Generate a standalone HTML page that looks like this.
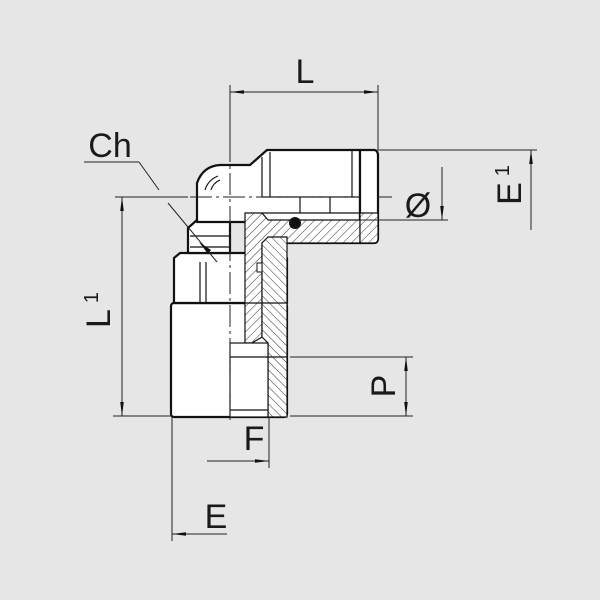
<!DOCTYPE html>
<html><head><meta charset="utf-8"><style>
html,body{margin:0;padding:0;background:#e6e6e6}
svg{display:block}
text{font-family:"Liberation Sans",sans-serif;fill:#1a1a1a}
</style></head><body>
<svg width="600" height="600" viewBox="0 0 600 600" xmlns="http://www.w3.org/2000/svg">
<defs>
<pattern id="h" width="6" height="6" patternUnits="userSpaceOnUse" patternTransform="rotate(45)">
<rect width="6" height="6" fill="#fff"/><line x1="0" y1="0" x2="0" y2="6" stroke="#222" stroke-width="0.9"/>
</pattern>
<pattern id="h2" width="6" height="6" patternUnits="userSpaceOnUse" patternTransform="rotate(-45)">
<rect width="6" height="6" fill="#fff"/><line x1="0" y1="0" x2="0" y2="6" stroke="#222" stroke-width="0.9"/>
</pattern>
<marker id="a" markerWidth="14" markerHeight="6" refX="14" refY="3" orient="auto" markerUnits="userSpaceOnUse">
<path d="M0,1.2 L14,3 L0,4.8Z" fill="#111"/></marker>
</defs>
<rect width="600" height="600" fill="#e6e6e6"/>

<g stroke="#111" stroke-width="2.2" fill="#fff" stroke-linejoin="round">
<rect x="171" y="303" width="116" height="114" rx="3"/>
<path d="M174,303 L174,258 L180,253 L283,253 L287,258 L287,303Z"/>
<path d="M188,253 L188,228 L197,220 L230,220 L230,253Z"/>
<path d="M197,222 L197,183 Q203,166 220,165 L250,165 L267,150 L360,150 L360,243 L262,243 L262,222Z"/>
<path d="M360,150 L374,150 Q378,150 378,156 L378,238 Q378,243 374,243 L360,243Z"/>
</g>
<g stroke="#111" stroke-width="1.2">
<path d="M245,213 L262,213 L268,220 L360,220 L360,243 L262,243 L262,337 L252,343 L245,343Z" fill="url(#h)"/>
<path d="M360,213 L378,213 L378,238 Q378,243 374,243 L360,243Z" fill="url(#h)"/>
<path d="M268,237 L287,237 L287,417 L268,417 L268,343 L262,337 L262,243Z" fill="url(#h2)"/>
</g>
<g stroke="#111" stroke-width="1.2" fill="none">
<rect x="230" y="343" width="38" height="74" fill="#fff"/>
<line x1="230" y1="357" x2="287" y2="357"/>
<line x1="230" y1="410" x2="268" y2="410"/>
<line x1="262" y1="157" x2="262" y2="197"/>
<line x1="270" y1="152" x2="270" y2="197"/>
<line x1="352" y1="150" x2="352" y2="197"/>
<line x1="360" y1="150" x2="360" y2="165"/>
<line x1="262" y1="197" x2="360" y2="197"/>
<line x1="262" y1="213" x2="360" y2="213"/>
<line x1="300" y1="197" x2="300" y2="213"/>
<line x1="330" y1="197" x2="330" y2="213"/>
<line x1="190" y1="236" x2="230" y2="236"/>
<line x1="190" y1="247" x2="230" y2="247"/>
<line x1="200" y1="262" x2="200" y2="303"/>
<line x1="206" y1="262" x2="206" y2="303"/>
<line x1="174" y1="303" x2="287" y2="303"/>
<path d="M205,190 Q208,180 218,176" /><path d="M211,190 Q213,183 220,180"/>
</g>
<circle cx="295" cy="223" r="6" fill="#111"/>
<rect x="257" y="263" width="5" height="9" fill="#fff" stroke="#111" stroke-width="1"/>

<g stroke="#222" stroke-width="1" stroke-dasharray="22,4,3,4">
<line x1="230" y1="140" x2="230" y2="420"/>
<line x1="190" y1="197" x2="360" y2="197"/>
</g>

<g stroke="#222" stroke-width="1" fill="none">
<line x1="230" y1="85" x2="230" y2="150"/>
<line x1="378" y1="85" x2="378" y2="150"/>
<line x1="300" y1="92" x2="230" y2="92" marker-end="url(#a)"/>
<line x1="300" y1="92" x2="378" y2="92" marker-end="url(#a)"/>
<line x1="378" y1="150" x2="537" y2="150"/>
<line x1="531" y1="230" x2="531" y2="150" marker-end="url(#a)"/>
<line x1="360" y1="220" x2="448" y2="220"/>
<line x1="378" y1="197" x2="392" y2="197"/>
<line x1="442" y1="167" x2="442" y2="220" marker-end="url(#a)"/>
<line x1="290" y1="357" x2="413" y2="357"/>
<line x1="290" y1="416" x2="413" y2="416"/>
<line x1="406" y1="386" x2="406" y2="357" marker-end="url(#a)"/>
<line x1="406" y1="386" x2="406" y2="416" marker-end="url(#a)"/>
<line x1="115" y1="197" x2="188" y2="197"/>
<line x1="113" y1="416" x2="171" y2="416"/>
<line x1="122" y1="300" x2="122" y2="197" marker-end="url(#a)"/>
<line x1="122" y1="300" x2="122" y2="416" marker-end="url(#a)"/>
<line x1="269" y1="417" x2="269" y2="468"/>
<line x1="207" y1="461" x2="269" y2="461" marker-end="url(#a)"/>
<line x1="172" y1="417" x2="172" y2="541"/>
<line x1="227" y1="534" x2="172" y2="534" marker-end="url(#a)"/>
<line x1="84" y1="162" x2="139" y2="162"/>
<line x1="139" y1="162" x2="159" y2="190"/>
<line x1="168" y1="203" x2="217" y2="262"/>
</g>
<path d="M199,242 L211,250 L208,254Z" fill="#111"/>

<text x="305" y="83" font-size="34" text-anchor="middle">L</text>
<text x="110" y="157" font-size="34" text-anchor="middle">Ch</text>
<text x="418" y="217" font-size="34" text-anchor="middle">Ø</text>
<text x="254" y="450" font-size="34" text-anchor="middle">F</text>
<text x="216" y="528" font-size="34" text-anchor="middle">E</text>
<text transform="translate(110,310) rotate(-90)" font-size="34" text-anchor="middle">L<tspan font-size="20" dx="6" dy="-12">1</tspan></text>
<text transform="translate(395,386) rotate(-90)" font-size="34" text-anchor="middle">P</text>
<text transform="translate(521,185) rotate(-90)" font-size="34" text-anchor="middle">E<tspan font-size="20" dx="6" dy="-12">1</tspan></text>
</svg>
</body></html>
